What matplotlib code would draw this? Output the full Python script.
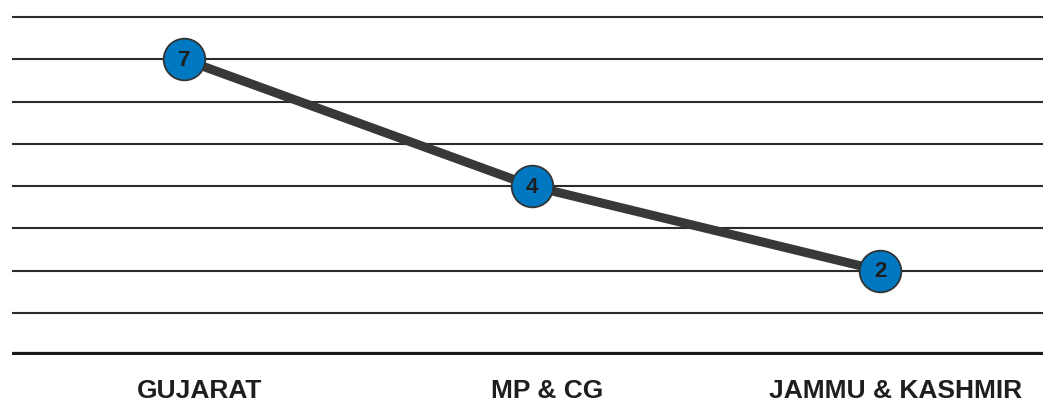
import matplotlib
matplotlib.use('Agg')
import matplotlib.pyplot as plt

# chart data
states = ['GUJARAT', 'MP & CG', 'JAMMU & KASHMIR']
counts = [7, 4, 2]
grid_levels = [1, 2, 3, 4, 5, 6, 7, 8]

plt.rcParams['font.family'] = ['Liberation Sans', 'DejaVu Sans']

fig = plt.figure(figsize=(10.43, 4.02), dpi=100)
ax = fig.add_axes([12 / 1043, 46 / 402, 1 - 12 / 1043, 1 - 46 / 402])

for g in grid_levels:
    ax.axhline(g, color='#2b2b2b', lw=1.5, zorder=1)
ax.axhline(0, color='#1a1a1a', lw=4.5, zorder=1)

x = list(range(len(states)))
ax.plot(x, counts, color='#383838', lw=6.5, solid_capstyle='butt', zorder=2)
ax.plot(x, counts, 'o', ms=30, mfc='#0078c1', mec='#333333', mew=1.3, zorder=3)

for xi, v in zip(x, counts):
    ax.text(xi, v, str(v), ha='center', va='center', fontsize=16,
            fontweight='bold', color='#1e1e1e', zorder=4)

for xi, s in zip(x, states):
    ax.annotate(s, (xi, 0), xycoords=('data', 'axes fraction'),
                xytext=(11, -25), textcoords='offset points',
                ha='center', va='center', fontsize=19, fontweight='bold',
                color='#1e1e1e', annotation_clip=False)

ax.set_xlim(-0.494, 2.468)
ax.set_ylim(0, 8.43)
ax.axis('off')

fig.savefig('out.png', dpi=100)
